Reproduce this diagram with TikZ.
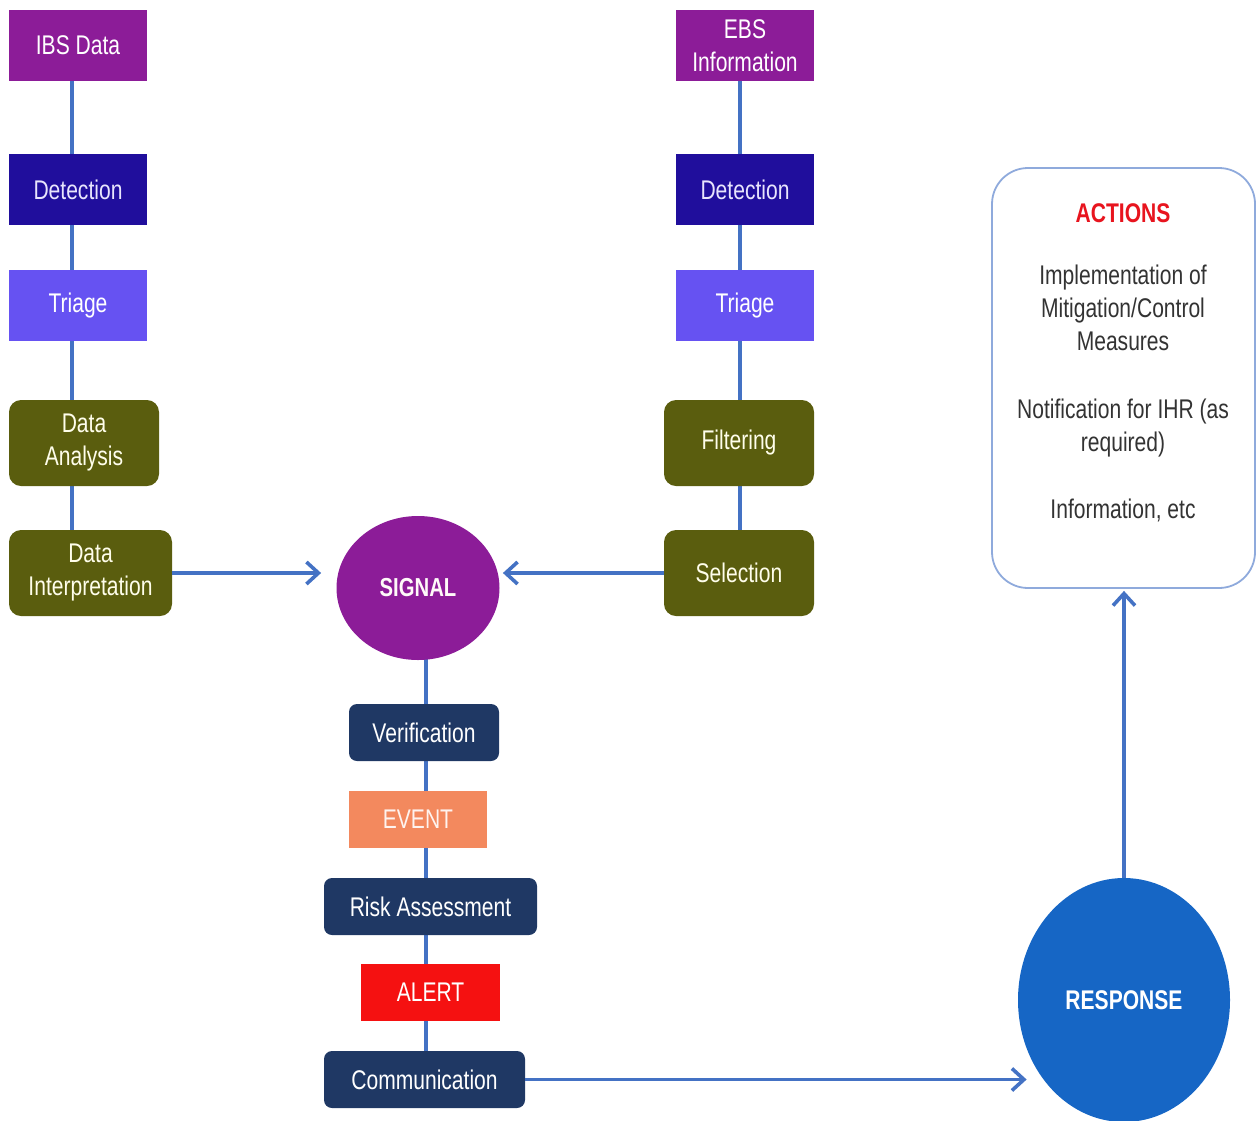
\documentclass[tikz,border=0pt]{standalone}
\usepackage{fontspec}
\setmainfont[FakeStretch=0.78]{Liberation Sans}
\usetikzlibrary{shapes.geometric,arrows.meta,backgrounds,calc}
\definecolor{cpurple}{HTML}{8C1C98}
\definecolor{cdet}{HTML}{200E9C}
\definecolor{ctri}{HTML}{6652F2}
\definecolor{colive}{HTML}{5A5D0E}
\definecolor{cnavy}{HTML}{1F3864}
\definecolor{cevent}{HTML}{F3895E}
\definecolor{calert}{HTML}{F51111}
\definecolor{cresp}{HTML}{1666C5}
\definecolor{cline}{HTML}{4472C4}
\definecolor{cbord}{HTML}{8FAADC}
\definecolor{cred}{HTML}{E8141E}
\definecolor{ctxt}{HTML}{333333}
\begin{document}
\begin{tikzpicture}[x=0.5pt,y=-0.5pt,
  every node/.style={font=\fontsize{13.5}{16.5}\selectfont, inner sep=0pt, align=center},
  sbox/.style={rectangle, minimum width=69pt, minimum height=35.5pt, text=white},
  obox/.style={rectangle, rounded corners=6pt, fill=colive, minimum height=43pt, text={white!92!yellow}},
  nbox/.style={rectangle, rounded corners=4pt, fill=cnavy, minimum height=28.5pt, text=white},
  fbox/.style={rectangle, minimum height=28.5pt, text=white},
  conn/.style={draw=cline, line width=1.8pt},
  arr/.style={conn, -{Straight Barb[length=6pt,width=11pt,line width=1.8pt]}},
  atxt/.style={text=ctxt}
]
\useasboundingbox (0,0) rectangle (1258,1120);
% left column
\node[sbox, fill=cpurple] (ibs) at (78,45.5) {IBS Data};
\node[sbox, fill=cdet, text={white!85!ctri}] (det1) at (78,189.5) {Detection};
\node[sbox, fill=ctri] (tri1) at (78,305.5) {Triage};
\node[obox, minimum width=75pt] (da) at (84,443) {Data\\Analysis};
\node[obox, minimum width=81.5pt] (di) at (90.5,573) {Data\\Interpretation};
% right column
\node[sbox, fill=cpurple] (ebs) at (745,45.5) {EBS\\Information};
\node[sbox, fill=cdet, text={white!85!ctri}] (det2) at (745,189.5) {Detection};
\node[sbox, fill=ctri] (tri2) at (745,305.5) {Triage};
\node[obox, minimum width=75pt] (filt) at (739,443) {Filtering};
\node[obox, minimum width=75pt] (sel) at (739,573) {Selection};
% signal
\node[ellipse, fill=cpurple, minimum width=81.5pt, minimum height=72pt, text={white!90!pink}, font=\fontsize{13}{14}\selectfont\bfseries] (signal) at (418,588) {SIGNAL};
% center column
\node[nbox, minimum width=75pt] (ver) at (424,732.5) {Verification};
\node[fbox, fill=cevent, minimum width=69pt, text={white!90!cevent}] (evt) at (418,819.5) {EVENT};
\node[nbox, minimum width=106.5pt] (risk) at (430.5,906.5) {Risk Assessment};
\node[fbox, fill=calert, minimum width=69.5pt] (alert) at (430.5,992.5) {ALERT};
\node[nbox, minimum width=100.5pt] (comm) at (424.5,1079.5) {Communication};
% response
\node[ellipse, fill=cresp, minimum width=106pt, minimum height=122pt, text=white, font=\fontsize{13.5}{14}\selectfont\bfseries] (resp) at (1124,1000) {RESPONSE};
% actions box
\node[rectangle, rounded corners=18pt, draw=cbord, line width=0.9pt, fill=white, minimum width=131.5pt, minimum height=210pt] (act) at (1123.5,378) {};
\node[text=cred, font=\fontsize{13.5}{14}\selectfont\bfseries] (acth) at (1123,213) {ACTIONS};
\node[atxt, anchor=north] (a1) at (1123,265) {Implementation of\\Mitigation/Control\\Measures};
\node[atxt, anchor=north] (a2) at (1123,399) {Notification for IHR (as\\required)};
\node[atxt, anchor=north] (a3) at (1123,499) {Information, etc};
% guide coordinates
\coordinate (L) at (72,0);
\coordinate (R) at (740,0);
\coordinate (C) at (426,0);
\begin{scope}[on background layer]
\draw[conn] (ibs.south -| L) -- (det1.north -| L);
\draw[conn] (det1.south -| L) -- (tri1.north -| L);
\draw[conn] (tri1.south -| L) -- (da.north -| L);
\draw[conn] (da.south -| L) -- (di.north -| L);
\draw[conn] (ebs.south -| R) -- (det2.north -| R);
\draw[conn] (det2.south -| R) -- (tri2.north -| R);
\draw[conn] (tri2.south -| R) -- (filt.north -| R);
\draw[conn] (filt.south -| R) -- (sel.north -| R);
\draw[conn] (signal.center -| C) -- (ver.north -| C);
\draw[conn] (ver.south -| C) -- (evt.north -| C);
\draw[conn] (evt.south -| C) -- (risk.north -| C);
\draw[conn] (risk.south -| C) -- (alert.north -| C);
\draw[conn] (alert.south -| C) -- (comm.north -| C);
\end{scope}
\draw[arr, shorten >=7.5pt] (di.east) -- (di.east -| signal.west);
\draw[arr, shorten >=1.5pt] (sel.west) -- (sel.west -| signal.east);
\draw[arr, shorten >=-4.5pt] (comm.east) -- (comm.east -| resp.west);
\draw[arr, shorten >=1pt] (resp.north) -- (resp.north |- act.south);
\end{tikzpicture}
\end{document}
